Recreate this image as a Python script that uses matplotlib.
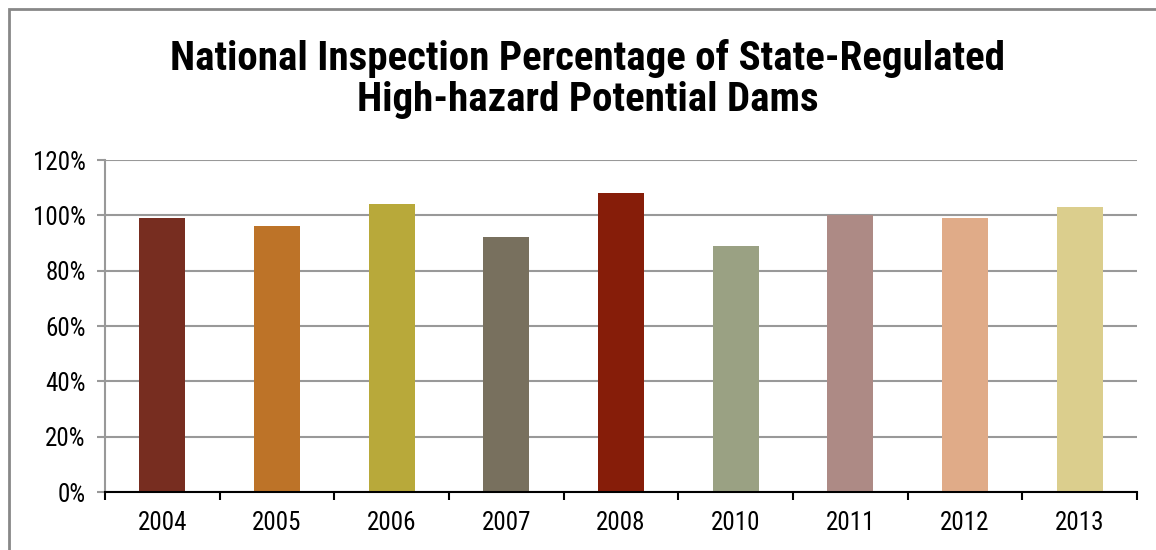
import matplotlib.pyplot as plt
from matplotlib.patches import Rectangle
from matplotlib.ticker import FuncFormatter

# data
years = ["2004", "2005", "2006", "2007", "2008", "2010", "2011", "2012", "2013"]
inspection_pct = [99, 96, 104, 92, 108, 89, 100, 99, 103]
bar_colors = ["#772d20", "#bd7328", "#b8a93a", "#78705e", "#861d09",
              "#9aa183", "#ad8a85", "#e0ab88", "#dbce8d"]
title = "National Inspection Percentage of State-Regulated\nHigh-hazard Potential Dams"

# narrow face, close to Arial Narrow
plt.rcParams["font.family"] = ["Roboto Condensed", "Archivo Narrow", "DejaVu Sans"]

fig = plt.figure(figsize=(11.56, 5.5), dpi=100)
ax = fig.add_axes([105 / 1156, 1 - 492 / 550, 1032 / 1156, 332 / 550])

x = range(len(years))
ax.bar(x, inspection_pct, width=0.4, color=bar_colors, zorder=3)

ax.set_xlim(-0.5, len(years) - 0.5)
ax.set_ylim(0, 120)
ax.set_yticks(range(0, 121, 20))
ax.yaxis.set_major_formatter(FuncFormatter(lambda v, p: f"{v:.0f}%"))
ax.set_xticks(list(x))
ax.set_xticklabels(years)
ax.set_xticks([i - 0.5 for i in range(len(years) + 1)], minor=True)

ax.grid(axis="y", color="#999999", linewidth=1.5, zorder=0)
ax.tick_params(axis="y", length=6, width=1.5, color="#999999", labelsize=18, pad=8)
ax.tick_params(axis="x", which="major", length=0, labelsize=18, pad=14)
ax.tick_params(axis="x", which="minor", length=6, width=1.5, color="black")

for side in ["top", "right"]:
    ax.spines[side].set_visible(False)
ax.spines["left"].set_color("#999999")
ax.spines["left"].set_linewidth(1.5)
ax.spines["bottom"].set_color("black")
ax.spines["bottom"].set_linewidth(1.5)
ax.spines["bottom"].set_zorder(4)

fig.text(588 / 1156, 1 - 79 / 550, title, ha="center", va="center",
         fontsize=29.5, fontweight="bold", linespacing=1.12)

# outer chart frame (runs off the right and bottom edges)
fig.patches.append(Rectangle((9 / 1156, -0.05), 1.2, 1 - 9 / 550 + 0.05,
                             transform=fig.transFigure, fill=False,
                             edgecolor="#888888", linewidth=2))

fig.savefig("out.png", dpi=100)
